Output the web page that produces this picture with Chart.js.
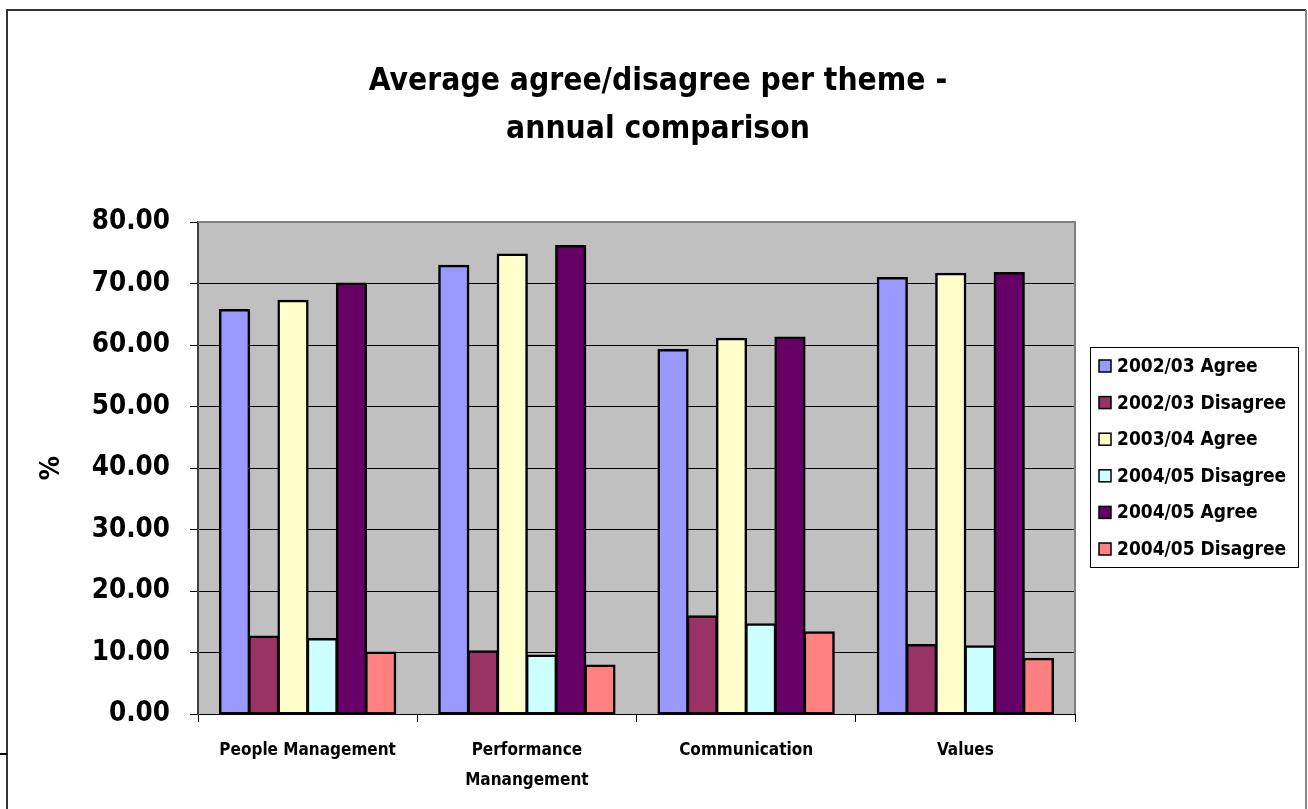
<!DOCTYPE html>
<html>
<head>
<meta charset="utf-8">
<title>Average agree/disagree per theme</title>
<script src="https://cdn.jsdelivr.net/npm/chart.js@4.4.0/dist/chart.umd.min.js"></script>
<style>
  html, body { margin: 0; padding: 0; background: #fff; }
  #wrap { position: relative; width: 1308px; height: 809px; }
</style>
</head>
<body>
<div id="wrap"><canvas id="chart"></canvas></div>
<script>
// Data
const themes = ['People Management', ['Performance', 'Manangement'], 'Communication', 'Values'];
const seriesLabels = ['2002/03 Agree', '2002/03 Disagree', '2003/04 Agree', '2004/05 Disagree', '2004/05 Agree', '2004/05 Disagree'];
const agree0203 = [65.7, 72.9, 59.2, 70.9];
const disagree0203 = [12.6, 10.2, 15.9, 11.2];
const agree0304 = [67.2, 74.7, 61.0, 71.6];
const disagreeCyan = [12.2, 9.5, 14.6, 11.0];
const agree0405 = [70.0, 76.1, 61.2, 71.7];
const disagree0405 = [10.0, 7.9, 13.3, 9.0];
const yMin = 0;
const yMax = 80;
const yStep = 10;

const seriesValues = [agree0203, disagree0203, agree0304, disagreeCyan, agree0405, disagree0405];
const seriesColors = ['#9999FF', '#993366', '#FFFFCC', '#CCFFFF', '#660066', '#FF8080'];

const FONT = "'DejaVu Sans Condensed', 'DejaVu Sans', sans-serif";

// white page, outer frame and grey plot area
const backdrop = {
    id: 'backdrop',
    beforeDraw(chart) {
        const ctx = chart.ctx;
        const a = chart.chartArea;
        ctx.save();
        ctx.fillStyle = '#fff';
        ctx.fillRect(0, 0, chart.width, chart.height);

        ctx.strokeStyle = '#333';
        ctx.lineWidth = 2;
        ctx.beginPath();
        ctx.moveTo(7, chart.height);
        ctx.lineTo(7, 10);
        ctx.lineTo(1306, 10);
        ctx.stroke();
        ctx.strokeStyle = '#888';
        ctx.beginPath();
        ctx.moveTo(1306, 10);
        ctx.lineTo(1306, chart.height);
        ctx.stroke();
        ctx.strokeStyle = '#000';
        ctx.beginPath();
        ctx.moveTo(0, 754);
        ctx.lineTo(7, 754);
        ctx.stroke();

        ctx.fillStyle = '#C0C0C0';
        ctx.fillRect(a.left, a.top, a.right - a.left, a.bottom - a.top);
        ctx.restore();
    },
    beforeDatasetsDraw(chart) {
        const ctx = chart.ctx;
        const a = chart.chartArea;
        ctx.save();
        ctx.strokeStyle = '#808080';
        ctx.lineWidth = 2;
        ctx.beginPath();
        ctx.moveTo(a.left, a.top);
        ctx.lineTo(a.right, a.top);
        ctx.lineTo(a.right, a.bottom);
        ctx.stroke();
        ctx.restore();
    }
};

// boxed legend to the right of the plot
const boxLegend = {
    id: 'boxLegend',
    afterDraw(chart) {
        const ctx = chart.ctx;
        const x = 1090, y = 347, w = 208, h = 220;
        ctx.save();
        ctx.strokeStyle = '#000';
        ctx.lineWidth = 1;
        ctx.strokeRect(x + 0.5, y + 0.5, w, h);
        ctx.font = 'bold 19px ' + FONT;
        ctx.textBaseline = 'middle';
        ctx.textAlign = 'left';
        chart.data.datasets.forEach((ds, i) => {
            const cy = 366 + i * 36.6;
            ctx.fillStyle = ds.backgroundColor;
            ctx.fillRect(1099, cy - 6, 12, 12);
            ctx.strokeStyle = '#000';
            ctx.lineWidth = 1.5;
            ctx.strokeRect(1099, cy - 6, 12, 12);
            ctx.fillStyle = '#000';
            ctx.fillText(ds.label, 1117, cy + 1);
        });
        ctx.restore();
    }
};

const ctx = document.getElementById('chart');
new Chart(ctx, {
    type: 'bar',
    data: {
        labels: themes,
        datasets: seriesValues.map((vals, i) => ({
            label: seriesLabels[i],
            data: vals,
            backgroundColor: seriesColors[i],
            borderColor: '#000',
            borderWidth: 2.5,
            borderSkipped: false,
            inflateAmount: 1,
            categoryPercentage: 0.8,
            barPercentage: 1.0
        }))
    },
    options: {
        responsive: true,
        maintainAspectRatio: false,
        animation: false,
        layout: { padding: { left: 8, top: 0, right: 0, bottom: 0 } },
        plugins: {
            legend: { display: false },
            tooltip: { enabled: false },
            title: {
                display: true,
                text: ['Average agree/disagree per theme -', 'annual comparison'],
                color: '#000',
                font: { family: FONT, size: 31.5, weight: 'bold', lineHeight: 48 / 31.5 },
                padding: { top: 58, bottom: 68 }
            }
        },
        scales: {
            x: {
                type: 'category',
                afterFit(scale) { scale.height = 95; },
                grid: {
                    offset: true,
                    drawOnChartArea: false,
                    drawTicks: true,
                    tickLength: 8,
                    color: '#000'
                },
                border: { display: true, color: '#000', width: 1 },
                ticks: {
                    color: '#000',
                    padding: 14,
                    maxRotation: 0,
                    autoSkip: false,
                    font: { family: FONT, size: 17, weight: 'bold', lineHeight: 30 / 17 }
                }
            },
            y: {
                min: yMin,
                max: yMax,
                afterFit(scale) { scale.width = 190; },
                grid: { color: '#000', lineWidth: 1, tickLength: 8 },
                border: { display: true, color: '#404040', width: 2 },
                ticks: {
                    stepSize: yStep,
                    color: '#000',
                    padding: 20,
                    font: { family: FONT, size: 27.5, weight: 'bold' },
                    callback: v => v.toFixed(2)
                },
                title: {
                    display: true,
                    text: '%',
                    color: '#000',
                    font: { family: FONT, size: 27, weight: 'bold' },
                    padding: { top: 28, bottom: 0 }
                }
            },
            yRight: {
                type: 'linear',
                position: 'right',
                display: true,
                afterFit(scale) { scale.width = 233; },
                grid: { display: false },
                border: { display: false },
                ticks: { display: false }
            }
        }
    },
    plugins: [backdrop, boxLegend]
});
</script>
</body>
</html>
